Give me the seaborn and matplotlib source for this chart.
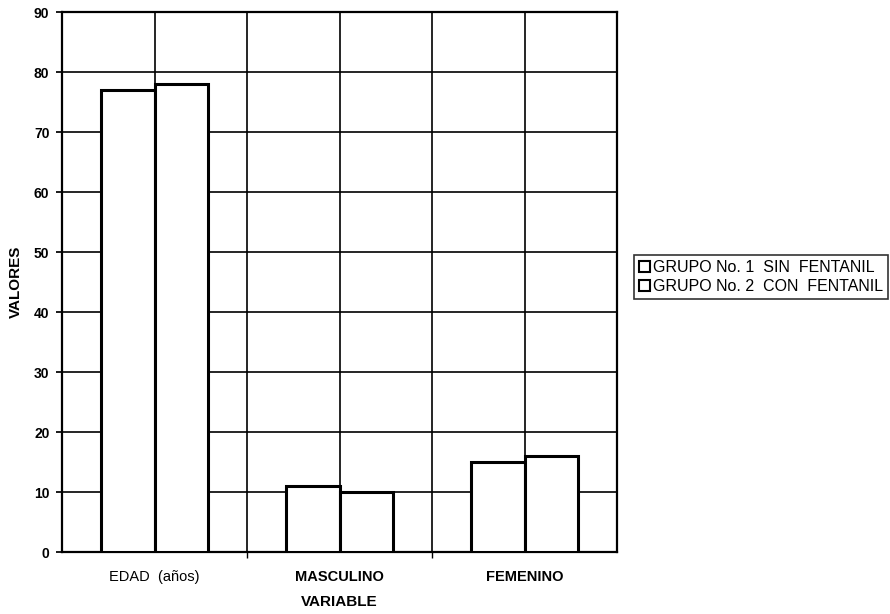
import matplotlib
matplotlib.use("Agg")
import matplotlib.pyplot as plt
import seaborn as sns
import pandas as pd
from matplotlib.ticker import FixedLocator

categories = ["EDAD  (años)", "MASCULINO", "FEMENINO"]
grupo1 = [77, 11, 15]
grupo2 = [78, 10, 16]
series_names = ["GRUPO No. 1  SIN  FENTANIL", "GRUPO No. 2  CON  FENTANIL"]
yticks = [0, 10, 20, 30, 40, 50, 60, 70, 80, 90]

df = pd.DataFrame({
    "VARIABLE": categories * 2,
    "VALORES": grupo1 + grupo2,
    "grupo": [series_names[0]] * 3 + [series_names[1]] * 3,
})

sns.set_theme(style="white")
plt.rcParams["font.family"] = ["Liberation Sans", "DejaVu Sans"]
plt.rcParams["text.color"] = "black"
plt.rcParams["axes.labelcolor"] = "black"
plt.rcParams["xtick.color"] = "black"
plt.rcParams["ytick.color"] = "black"

fig = plt.figure(figsize=(8.9, 6.14), dpi=100)
ax = fig.add_axes([62 / 890, 1 - 552 / 614, (617 - 62) / 890, (552 - 12) / 614])

sns.barplot(data=df, x="VARIABLE", y="VALORES", hue="grupo", ax=ax,
            palette=["white", "white"], edgecolor="black", linewidth=2.2,
            width=0.58, saturation=1, zorder=3)

ax.set_xlim(-0.5, 2.5)
ax.set_ylim(0, 90)
ax.set_yticks(yticks)
ax.set_yticklabels([str(v) for v in yticks], fontsize=10, fontweight="bold")
ax.xaxis.set_minor_locator(FixedLocator([0.5, 1.5]))
ax.grid(True, which="major", axis="y", color="black", linewidth=1.2, zorder=1)
ax.grid(True, which="both", axis="x", color="black", linewidth=1.2, zorder=1)
ax.set_axisbelow(True)

ax.tick_params(axis="x", which="major", length=0, pad=13, labelsize=10.5)
ax.tick_params(axis="x", which="minor", length=4, color="black", direction="out", bottom=True)
ax.tick_params(axis="y", length=4, color="black", direction="out", left=True, pad=5)
for lab in ax.get_xticklabels():
    lab.set_fontweight("bold" if lab.get_text() != "EDAD  (años)" else "normal")

for s in ax.spines.values():
    s.set_visible(True)
    s.set_color("black")
    s.set_linewidth(1.6)

ax.set_xlabel("VARIABLE", fontsize=11, fontweight="bold", labelpad=8)
ax.set_ylabel("VALORES", fontsize=11, fontweight="bold", labelpad=8)

handles, labels = ax.get_legend_handles_labels()
ax.get_legend().remove()
leg = fig.legend(handles, labels, loc="upper left",
                 bbox_to_anchor=(634 / 890, 1 - 255 / 614),
                 fontsize=11.5, frameon=True, fancybox=False, edgecolor="black",
                 handlelength=0.7, handleheight=0.7, handletextpad=0.2,
                 borderpad=0.3, labelspacing=0.25, borderaxespad=0)
leg.get_frame().set_linewidth(1.2)
for h in leg.legend_handles:
    h.set_edgecolor("black")
    h.set_linewidth(1.5)

fig.savefig("out.png", dpi=100, facecolor="white")
